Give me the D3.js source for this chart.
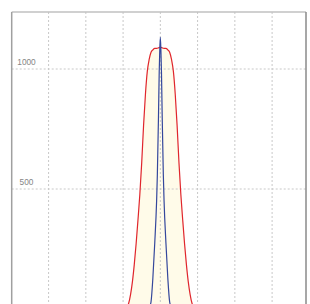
<!DOCTYPE html>
<html><head><meta charset="utf-8">
<script src="https://cdn.jsdelivr.net/npm/d3@7"></script>
<style>html,body{margin:0;padding:0;background:#fff;}svg{display:block;}</style>
</head><body>
<svg id="c" width="310" height="304"></svg>
<script>
const xGridTicks = [-3, -2, -1, 0, 1, 2, 3];
const yTicks = [500, 1000];
const yTickLabels = ["500", "1000"];

const redX = [-1.00,-0.95,-0.90,-0.85,-0.80,-0.75,-0.70,-0.65,-0.60,-0.55,-0.50,-0.45,-0.40,-0.35,-0.30,-0.25,-0.20,-0.15,-0.10,-0.05,0,
               0.05,0.10,0.15,0.20,0.25,0.30,0.35,0.40,0.45,0.50,0.55,0.60,0.65,0.70,0.75,0.80,0.85,0.90,0.95,1.00];
const redY = [1,3,8,24,60,113,185,272,372,478,610,765,895,990,1040,1070,1080,1086,1086,1088,1091,
              1088,1086,1086,1080,1070,1040,990,895,765,610,478,372,272,185,113,60,24,8,3,1];

const blueX = [-0.40,-0.35,-0.30,-0.25,-0.20,-0.15,-0.10,-0.08,-0.05,-0.03,-0.015,0,
                0.015,0.03,0.05,0.08,0.10,0.15,0.20,0.25,0.30,0.35,0.40];
const blueY = [0.2,1,6,30,130,275,450,560,800,990,1080,1132,
               1080,990,800,560,450,275,130,30,6,1,0.2];

const svg = d3.select("#c");
const x = d3.scaleLinear().domain([-3.99, 3.91]).range([11.7, 306]);
const y = d3.scaleLinear().domain([0, 1237.5]).range([309, 12]);

const x0 = x.range()[0], x1 = x.range()[1], yTop = y.range()[1], yBot = y.range()[0];

const red = redX.map((v, i) => [v, redY[i]]);
const blue = blueX.map((v, i) => [v, blueY[i]]);
svg.append("path").datum(red)
  .attr("d", d3.area().x(d => x(d[0])).y0(y(0)).y1(d => y(d[1])).curve(d3.curveMonotoneX))
  .attr("fill", "#fffbe9");

svg.append("g").selectAll("line").data(xGridTicks).join("line")
  .attr("x1", d => x(d)).attr("x2", d => x(d)).attr("y1", yTop).attr("y2", yBot)
  .attr("stroke", "#c8c8c8").attr("stroke-width", 1).attr("stroke-dasharray", "2,2");
svg.append("g").selectAll("line").data(yTicks).join("line")
  .attr("x1", x0).attr("x2", x1).attr("y1", d => y(d)).attr("y2", d => y(d))
  .attr("stroke", "#c8c8c8").attr("stroke-width", 1).attr("stroke-dasharray", "2,2");

svg.append("g").selectAll("text").data(yTicks).join("text")
  .attr("x", 26.5).attr("y", d => y(d) - 4.5)
  .attr("text-anchor", "middle")
  .attr("font-family", "Liberation Sans, Arial, sans-serif")
  .attr("font-size", 8.3).attr("fill", "#858585")
  .text((d, i) => yTickLabels[i]);

svg.append("path").datum(red)
  .attr("d", d3.line().x(d => x(d[0])).y(d => y(d[1])).curve(d3.curveMonotoneX))
  .attr("fill", "none").attr("stroke", "#e0262c").attr("stroke-width", 1.2);
svg.append("path").datum(blue)
  .attr("d", d3.line().x(d => x(d[0])).y(d => y(d[1])).curve(d3.curveMonotoneX))
  .attr("fill", "none").attr("stroke", "#34479c").attr("stroke-width", 1.2);

svg.append("line").attr("x1", x0).attr("x2", x1).attr("y1", yTop).attr("y2", yTop)
  .attr("stroke", "#c0c0c0").attr("stroke-width", 1.5);
svg.append("line").attr("x1", x0).attr("x2", x0).attr("y1", yTop).attr("y2", 304)
  .attr("stroke", "#a0a0a0").attr("stroke-width", 1.5);
svg.append("line").attr("x1", x1).attr("x2", x1).attr("y1", yTop).attr("y2", 304)
  .attr("stroke", "#8a8a8a").attr("stroke-width", 1.5);
</script>
</body></html>
